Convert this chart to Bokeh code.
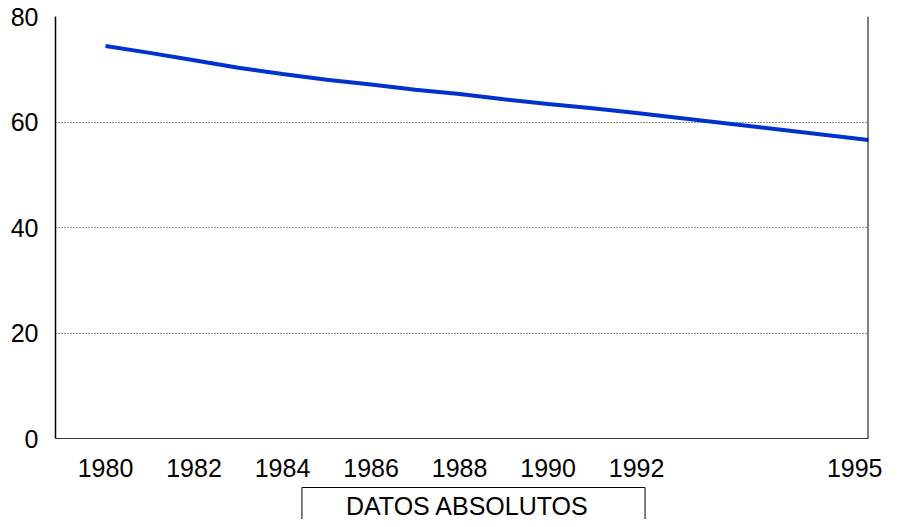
from bokeh.plotting import figure
from bokeh.models import Range1d, FixedTicker, Label, Span
from bokeh.layouts import column
from bokeh.embed import file_html
from bokeh.resources import INLINE

# Data
years = [1980, 1981, 1982, 1983, 1984, 1985, 1986, 1987, 1988, 1989, 1990, 1991, 1992, 1995]
values = [74.4, 73.1, 71.7, 70.3, 69.1, 68.0, 67.1, 66.1, 65.3, 64.3, 63.4, 62.6, 61.7, 56.6]
tick_years = [1980, 1982, 1984, 1986, 1988, 1990, 1992, 1995]
y_ticks = [0, 20, 40, 60, 80]
caption = "DATOS ABSOLUTOS"

# The chart's x axis is evenly spaced per year up to 1992; the final year sits on the right edge
X_START = 1978.87
X_END = 1997.24
xs = [y if y <= 1992 else X_END for y in years]
xt = [y if y <= 1992 else X_END for y in tick_years]
overrides = {t: str(y) for t, y in zip(xt, tick_years)}

FONT = "Liberation Sans"
FS = "25px"

p = figure(width=882, height=486, output_backend="svg", toolbar_location=None,
           x_range=Range1d(X_START, X_END), y_range=Range1d(0, 80),
           min_border_left=55, min_border_right=14, min_border_top=16, min_border_bottom=48)
p.outline_line_color = None
p.background_fill_color = "white"
p.border_fill_color = "white"

# grid
p.xgrid.grid_line_color = None
p.ygrid.ticker = FixedTicker(ticks=y_ticks)
p.ygrid.grid_line_color = "#333333"
p.ygrid.grid_line_dash = "1 2"
p.ygrid.grid_line_width = 1

p.line(xs, values, line_color="#0033CC", line_width=4)

# right border of the plot area
p.add_layout(Span(location=X_END, dimension="height", line_color="black", line_width=2))

# x axis
xa = p.xaxis[0]
xa.ticker = FixedTicker(ticks=xt)
xa.major_label_overrides = overrides
xa.major_tick_line_color = None
xa.minor_tick_line_color = None
xa.axis_line_color = "#333333"
xa.axis_line_width = 1
xa.major_label_text_font = FONT
xa.major_label_text_font_size = FS
xa.major_label_text_color = "black"
xa.major_label_standoff = 14

# y axis
ya = p.yaxis[0]
ya.ticker = FixedTicker(ticks=y_ticks)
ya.major_tick_line_color = None
ya.minor_tick_line_color = None
ya.axis_line_color = "black"
ya.axis_line_width = 1.5
ya.major_label_text_font = FONT
ya.major_label_text_font_size = FS
ya.major_label_text_color = "black"
ya.major_label_standoff = 11

# caption strip below the chart
p2 = figure(width=882, height=33, output_backend="svg", toolbar_location=None,
            x_axis_type=None, y_axis_type=None,
            x_range=Range1d(0, 1), y_range=Range1d(0, 1),
            min_border_left=0, min_border_right=0, min_border_top=0, min_border_bottom=0)
p2.outline_line_color = None
p2.grid.grid_line_color = None
p2.background_fill_color = "white"
p2.border_fill_color = "white"

lab = Label(x=418, y=32, x_units="screen", y_units="screen", text=caption,
            text_font=FONT, text_font_size=FS, text_color="black",
            text_align="center", text_baseline="top",
            border_line_color="black", border_line_width=1,
            background_fill_color="white",
            padding=dict(left=44, right=56, top=4, bottom=20))
p2.add_layout(lab)

layout = column(p, p2, spacing=0)
open("out.html", "w").write(file_html(layout, INLINE))
